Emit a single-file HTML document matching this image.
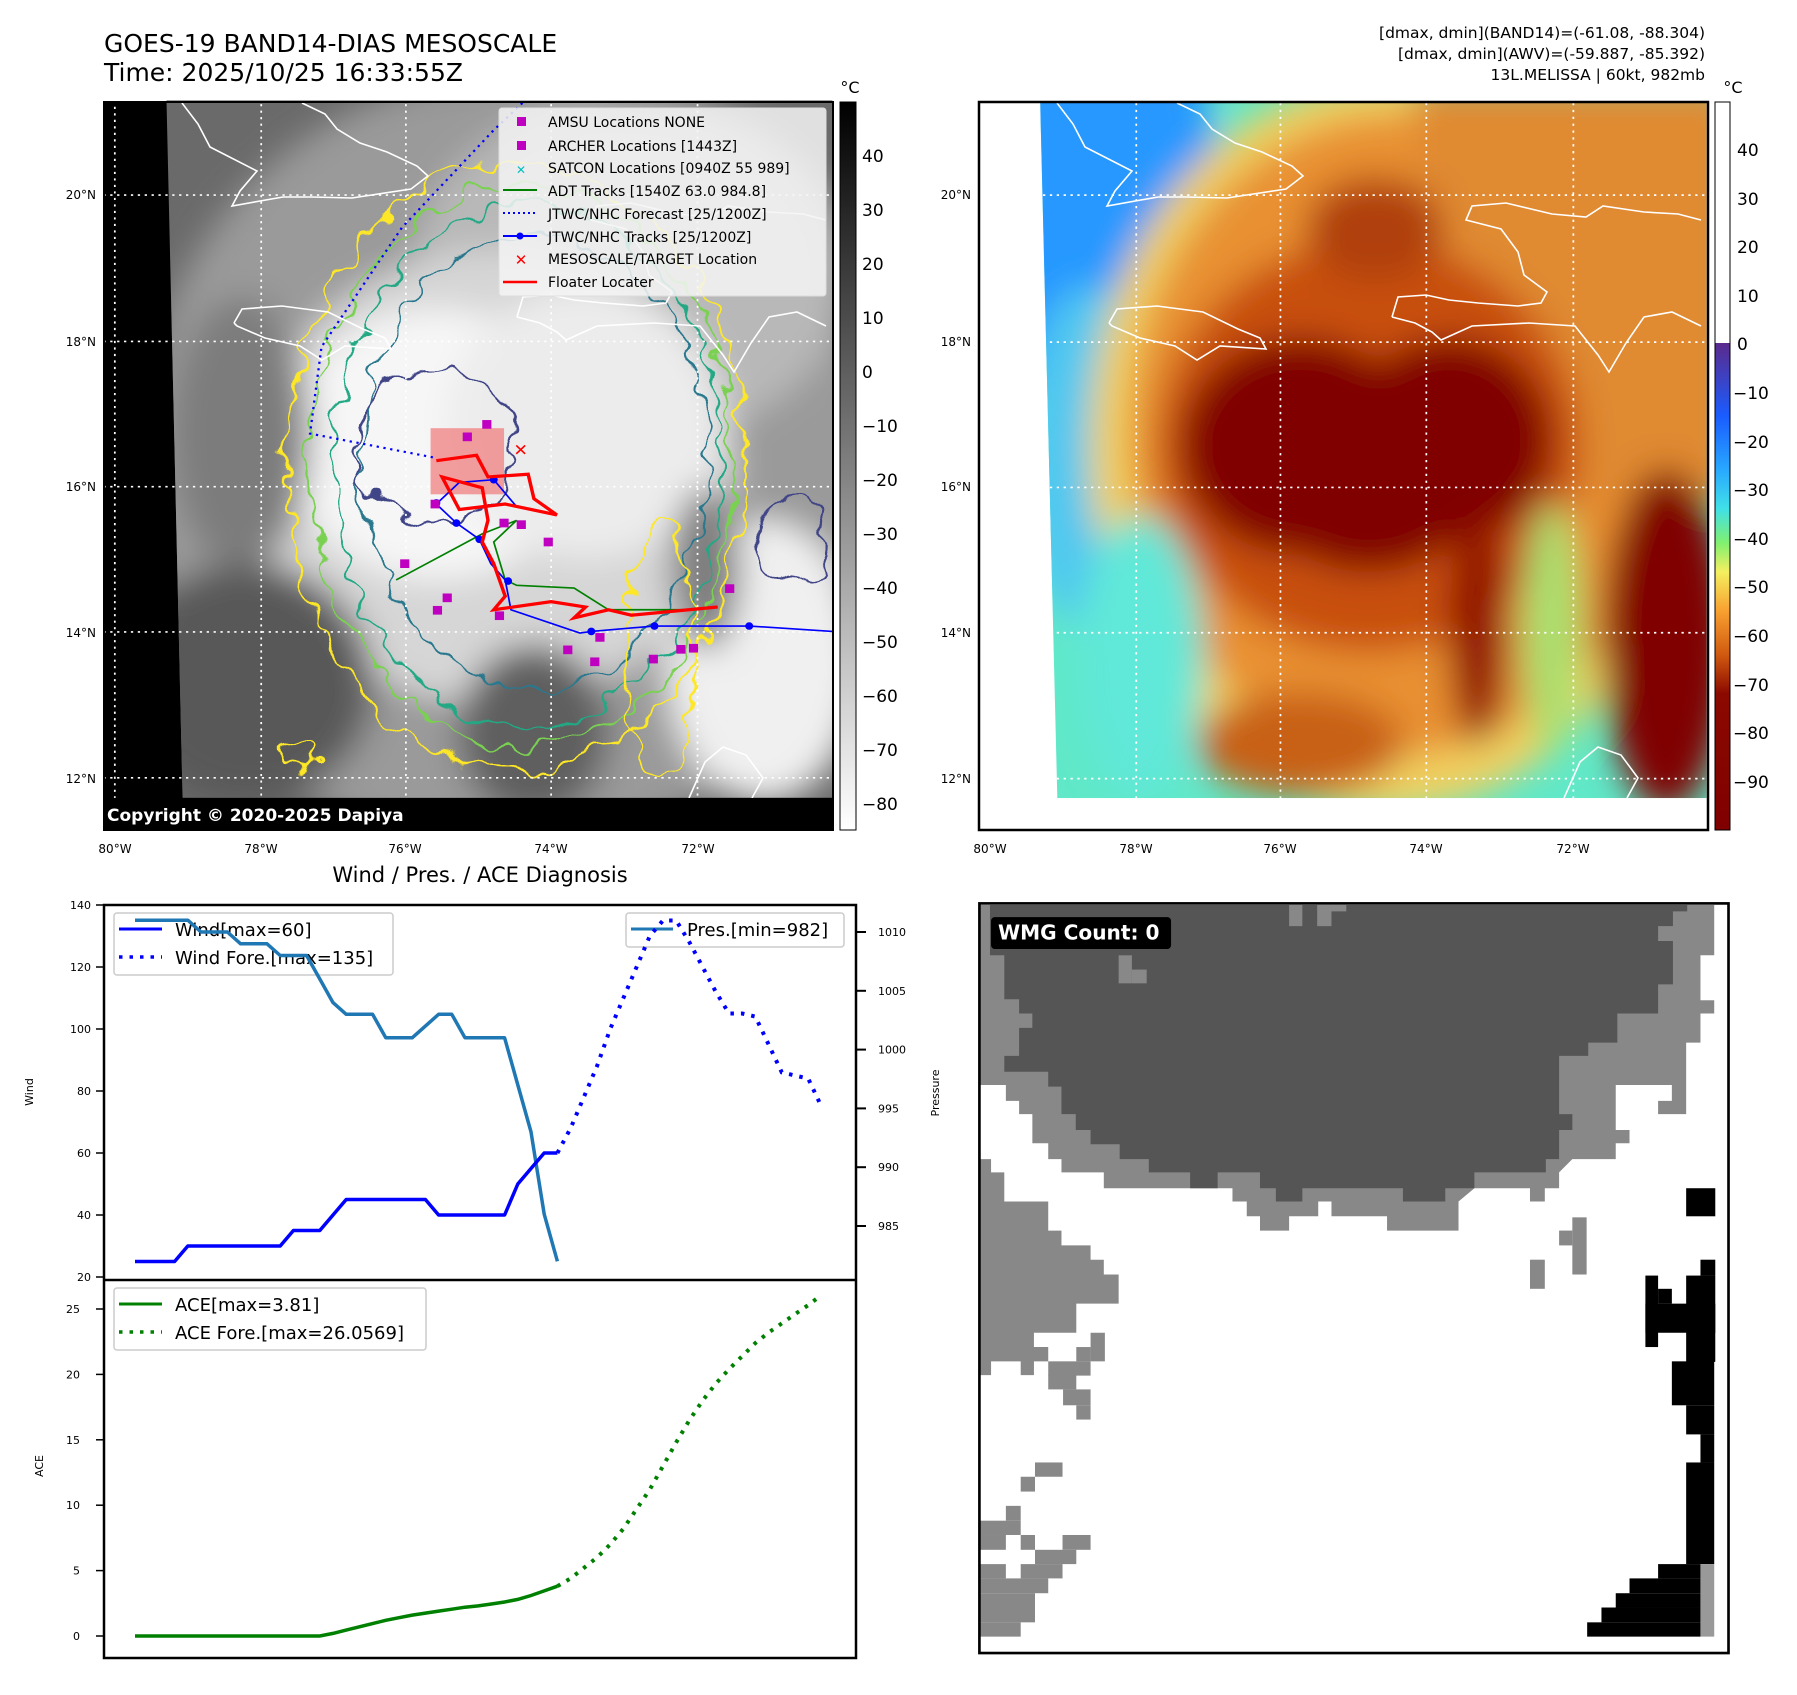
<!DOCTYPE html>
<html><head><meta charset="utf-8">
<style>
html,body{margin:0;padding:0;background:#fff;}
body{width:1797px;height:1690px;position:relative;overflow:hidden;font-family:"Liberation Sans","DejaVu Sans",sans-serif;}
svg text{font-family:"DejaVu Sans","Liberation Sans",sans-serif;}
</style></head>
<body>
<svg id="root" width="1797" height="1690" viewBox="0 0 1797 1690" xmlns="http://www.w3.org/2000/svg">
<defs>
  <filter id="blur30" x="-30%" y="-30%" width="160%" height="160%"><feGaussianBlur stdDeviation="30"/></filter>
  <filter id="wobble" x="-10%" y="-10%" width="120%" height="120%">
    <feTurbulence type="fractalNoise" baseFrequency="0.02" numOctaves="2" seed="3" result="n"/>
    <feDisplacementMap in="SourceGraphic" in2="n" scale="60" xChannelSelector="R" yChannelSelector="G"/>
  </filter>
  <linearGradient id="cbGray" x1="0" y1="0" x2="0" y2="1">
    <stop offset="0" stop-color="#000"/><stop offset="1" stop-color="#fff"/>
  </linearGradient>
  <linearGradient id="cbColor" x1="0" y1="0" x2="0" y2="1">
    <stop offset="0" stop-color="#5b2a8c"/>
    <stop offset="0.15" stop-color="#1a5cff"/>
    <stop offset="0.26" stop-color="#28a8ff"/>
    <stop offset="0.34" stop-color="#40e0e8"/>
    <stop offset="0.41" stop-color="#80f070"/>
    <stop offset="0.47" stop-color="#f4f060"/>
    <stop offset="0.55" stop-color="#f8a030"/>
    <stop offset="0.64" stop-color="#d05a10"/>
    <stop offset="0.72" stop-color="#8a0a00"/>
    <stop offset="1" stop-color="#800000"/>
  </linearGradient>
  <clipPath id="clipL"><polygon points="290,185 1450,185 1450,1472 318,1472"/></clipPath>
  <clipPath id="clipR"><polygon points="245,178 1410,178 1410,1395 275,1395"/></clipPath>
  <g id="coast" fill="none" stroke="#fff" stroke-width="1.6">
    <polyline points="234,323 242,309 282,306 328,312 363,329 385,338 391,349 345,346 322,360 300,346 265,338 237,326 234,323"/>
    <polyline points="182,103 198,124 210,147 257,171 240,191 232,206 283,197 312,197 352,198 411,189 428,176 417,166 387,152 360,143 337,129 325,114 302,103"/>
    <polyline points="517,317 523,297 551,295 574,300 603,303 643,306 666,303 672,292 649,275 643,252 626,229 591,220 597,206 631,203 677,214 711,217 728,206 769,212 803,214 826,220"/>
    <polyline points="826,326 797,312 769,317 751,343 734,372 723,355 700,326 654,323 597,326 566,340 557,332 540,323 517,317"/>
    <polyline points="689,798 705,762 723,747 746,755 763,778 752,798"/>
  </g>
</defs>

<text x="104" y="52" font-size="25" fill="#000">GOES-19 BAND14-DIAS MESOSCALE</text>
<text x="104" y="81" font-size="25" fill="#000">Time: 2025/10/25 16:33:55Z</text>
<g font-size="15.5" fill="#000" text-anchor="end">
  <text x="1705" y="38">[dmax, dmin](BAND14)=(-61.08, -88.304)</text>
  <text x="1705" y="59">[dmax, dmin](AWV)=(-59.887, -85.392)</text>
  <text x="1705" y="80">13L.MELISSA | 60kt, 982mb</text>
</g>

<g>
  <rect x="104" y="102" width="729" height="728" fill="#000"/>
  <g transform="scale(0.5741,0.5420)">
    <g clip-path="url(#clipL)">
      <rect x="280" y="180" width="1180" height="1300" fill="#6a6a6a"/>
      <g filter="url(#blur30)">
        <ellipse cx="880" cy="860" rx="640" ry="720" fill="#9a9a9a"/>
        <ellipse cx="1100" cy="500" rx="380" ry="320" fill="#b8b8b8"/>
        <ellipse cx="860" cy="880" rx="420" ry="420" fill="#d6d6d6"/>
        <ellipse cx="760" cy="820" rx="260" ry="250" fill="#f6f6f6"/>
        <ellipse cx="1020" cy="780" rx="240" ry="250" fill="#ececec"/>
        <ellipse cx="1330" cy="1220" rx="170" ry="260" fill="#f0f0f0"/>
        <ellipse cx="430" cy="1260" rx="220" ry="220" fill="#585858"/>
        <ellipse cx="930" cy="1350" rx="130" ry="160" fill="#5e5e5e"/>
        <ellipse cx="1230" cy="1050" rx="60" ry="150" fill="#7a7a7a"/>
        <ellipse cx="420" cy="800" rx="120" ry="250" fill="#7c7c7c"/>
      </g>
      <g fill="none" stroke-width="4" filter="url(#wobble)">
        <ellipse cx="900" cy="860" rx="400" ry="560" stroke="#fde725"/>
        <ellipse cx="910" cy="860" rx="370" ry="520" stroke="#7ad151"/>
        <ellipse cx="920" cy="860" rx="340" ry="480" stroke="#22a884"/>
        <ellipse cx="930" cy="850" rx="300" ry="420" stroke="#2a788e"/>
        <ellipse cx="760" cy="820" rx="140" ry="140" stroke="#414487"/>
        <ellipse cx="1380" cy="1000" rx="60" ry="80" stroke="#414487"/>
        <ellipse cx="1150" cy="1200" rx="60" ry="240" stroke="#fde725"/>
        <ellipse cx="520" cy="1390" rx="30" ry="25" stroke="#fde725"/>
      </g>
      <g stroke="#fff" stroke-width="3" stroke-dasharray="4 8" fill="none">
        <line x1="455" y1="180" x2="455" y2="1480"/><line x1="707" y1="180" x2="707" y2="1480"/>
        <line x1="960" y1="180" x2="960" y2="1480"/><line x1="1215" y1="180" x2="1215" y2="1480"/>
      </g>
    </g>
    <g stroke="#fff" stroke-width="3" stroke-dasharray="4 8" fill="none">
      <line x1="200" y1="185" x2="200" y2="1472"/>
      <line x1="180" y1="360" x2="1450" y2="360"/><line x1="180" y1="630" x2="1450" y2="630"/>
      <line x1="180" y1="898" x2="1450" y2="898"/><line x1="180" y1="1166" x2="1450" y2="1166"/>
      <line x1="180" y1="1435" x2="1450" y2="1435"/>
    </g>
    <rect x="750" y="790" width="128" height="122" fill="#f08080" fill-opacity="0.75"/>
    <polyline points="910,190 860,240 700,420 560,640 540,800 760,845" fill="none" stroke="#0000ff" stroke-width="4" stroke-dasharray="4 8"/>
    <polyline points="690,1070 840,985 900,960 860,1000 880,1070 900,1080 1000,1085 1060,1125 1200,1125 1250,1120" fill="none" stroke="#008000" stroke-width="3"/>
    <polyline points="1450,1165 1305,1155 1140,1155 1030,1165 1010,1168 890,1125 880,1070 855,1040 835,995 795,965 760,930 800,890 860,885 900,935" fill="none" stroke="#0000ff" stroke-width="3"/>
    <g fill="#0000ff"><circle cx="1305" cy="1155" r="7"/><circle cx="1140" cy="1155" r="7"/><circle cx="1030" cy="1165" r="7"/><circle cx="885" cy="1072" r="7"/><circle cx="835" cy="995" r="7"/><circle cx="795" cy="965" r="7"/><circle cx="760" cy="928" r="7"/><circle cx="860" cy="885" r="7"/></g>
    <polyline points="760,850 830,840 850,880 920,875 930,920 970,950 880,930 800,940 770,880 840,900 850,960 840,1000 860,1040 880,1100 860,1125 960,1110 1020,1120 1000,1140 1060,1125 1100,1135 1250,1120" fill="none" stroke="#ff0000" stroke-width="6"/>
    <g fill="#c000c0">
      <rect x="840" y="775" width="16" height="16"/><rect x="806" y="798" width="16" height="16"/><rect x="750" y="922" width="16" height="16"/>
      <rect x="870" y="957" width="16" height="16"/><rect x="900" y="960" width="16" height="16"/><rect x="947" y="992" width="16" height="16"/>
      <rect x="697" y="1032" width="16" height="16"/><rect x="771" y="1095" width="16" height="16"/><rect x="754" y="1118" width="16" height="16"/>
      <rect x="862" y="1128" width="16" height="16"/><rect x="981" y="1191" width="16" height="16"/><rect x="1028" y="1213" width="16" height="16"/>
      <rect x="1037" y="1168" width="16" height="16"/><rect x="1130" y="1208" width="16" height="16"/><rect x="1178" y="1190" width="16" height="16"/>
      <rect x="1263" y="1078" width="16" height="16"/><rect x="1200" y="1188" width="16" height="16"/>
    </g>
    <text x="907" y="840" font-size="30" fill="#ff0000" text-anchor="middle">✕</text>
  </g>
  <use href="#coast"/>
  <rect x="104" y="798" width="729" height="32" fill="#000"/>
  <text x="107" y="821" font-size="17" font-weight="bold" fill="#fff">Copyright © 2020-2025 Dapiya</text>
  <rect x="104" y="102" width="729" height="728" fill="none" stroke="#000" stroke-width="2"/>
</g>

<g>
  <rect x="499" y="108" width="327" height="188" rx="3" fill="#f4f4f4" fill-opacity="0.85" stroke="#ddd"/>
  <g font-size="14" fill="#000">
    <rect x="517" y="117" width="9" height="9" fill="#c000c0"/><text x="548" y="127">AMSU Locations NONE</text>
    <rect x="517" y="141" width="9" height="9" fill="#c000c0"/><text x="548" y="151">ARCHER Locations [1443Z]</text>
    <text x="521" y="174" font-size="12" fill="#00c0c0" text-anchor="middle">✕</text><text x="548" y="173">SATCON Locations [0940Z 55 989]</text>
    <line x1="503" y1="190" x2="537" y2="190" stroke="#008000" stroke-width="2"/><text x="548" y="196">ADT Tracks [1540Z 63.0 984.8]</text>
    <line x1="503" y1="213" x2="537" y2="213" stroke="#0000ff" stroke-width="2" stroke-dasharray="2 3"/><text x="548" y="219">JTWC/NHC Forecast [25/1200Z]</text>
    <line x1="503" y1="236" x2="537" y2="236" stroke="#0000ff" stroke-width="2"/><circle cx="520" cy="236" r="3.5" fill="#0000ff"/><text x="548" y="242">JTWC/NHC Tracks [25/1200Z]</text>
    <text x="521" y="265" font-size="15" fill="#ff0000" font-weight="bold" text-anchor="middle">✕</text><text x="548" y="264">MESOSCALE/TARGET Location</text>
    <line x1="503" y1="282" x2="537" y2="282" stroke="#ff0000" stroke-width="2.5"/><text x="548" y="287">Floater Locater</text>
  </g>
</g>

<g>
  <rect x="840" y="102" width="16" height="728" fill="url(#cbGray)" stroke="#000" stroke-width="1"/>
  <text x="850" y="93" font-size="16" text-anchor="middle">°C</text>
  <g font-size="17" fill="#000">
    <text x="862" y="162">40</text><text x="862" y="216">30</text><text x="862" y="270">20</text><text x="862" y="324">10</text>
    <text x="862" y="378">0</text><text x="862" y="432">−10</text><text x="862" y="486">−20</text><text x="862" y="540">−30</text>
    <text x="862" y="594">−40</text><text x="862" y="648">−50</text><text x="862" y="702">−60</text><text x="862" y="756">−70</text><text x="862" y="810">−80</text>
  </g>
</g>

<g font-size="12" fill="#000">
  <g text-anchor="end"><text x="96" y="199">20°N</text><text x="96" y="346">18°N</text><text x="96" y="491">16°N</text><text x="96" y="637">14°N</text><text x="96" y="783">12°N</text></g>
  <g text-anchor="middle"><text x="115" y="853">80°W</text><text x="261" y="853">78°W</text><text x="405" y="853">76°W</text><text x="551" y="853">74°W</text><text x="698" y="853">72°W</text></g>
</g>

<g>
  <rect x="979" y="102" width="729" height="728" fill="#fff"/>
  <g transform="translate(900,0) scale(0.5721)">
    <g clip-path="url(#clipR)">
      <rect x="240" y="170" width="1180" height="1240" fill="#60e8c8"/>
      <g filter="url(#blur30)">
        <ellipse cx="300" cy="300" rx="250" ry="400" fill="#2898ff"/>
        <ellipse cx="330" cy="800" rx="120" ry="300" fill="#50c8f0"/>
        <ellipse cx="850" cy="780" rx="520" ry="640" fill="#f0d060"/>
        <ellipse cx="870" cy="760" rx="470" ry="560" fill="#e89030"/>
        <rect x="900" y="150" width="560" height="720" fill="#e08a30"/>
        <ellipse cx="820" cy="780" rx="370" ry="360" fill="#c85010"/>
        <ellipse cx="700" cy="780" rx="210" ry="190" fill="#800000"/>
        <ellipse cx="960" cy="770" rx="180" ry="180" fill="#800000"/>
        <ellipse cx="820" cy="850" rx="190" ry="150" fill="#800000"/>
        <ellipse cx="1340" cy="1120" rx="110" ry="300" fill="#800000"/>
        <ellipse cx="1010" cy="1100" rx="50" ry="200" fill="#900800"/>
        <ellipse cx="1140" cy="1100" rx="50" ry="220" fill="#a8e070"/>
        <ellipse cx="700" cy="1300" rx="180" ry="90" fill="#c86018"/>
        <ellipse cx="830" cy="400" rx="120" ry="90" fill="#b04010"/>
        <ellipse cx="420" cy="1150" rx="110" ry="250" fill="#60e8d8"/>
      </g>
    </g>
    <g stroke="#fff" stroke-width="3" stroke-dasharray="4 8" fill="none">
      <line x1="413" y1="180" x2="413" y2="1395"/><line x1="665" y1="180" x2="665" y2="1395"/>
      <line x1="920" y1="180" x2="920" y2="1395"/><line x1="1177" y1="180" x2="1177" y2="1395"/>
      <line x1="250" y1="341" x2="1410" y2="341"/><line x1="250" y1="598" x2="1410" y2="598"/>
      <line x1="250" y1="852" x2="1410" y2="852"/><line x1="250" y1="1106" x2="1410" y2="1106"/>
      <line x1="250" y1="1361" x2="1410" y2="1361"/>
    </g>
  </g>
  <use href="#coast" transform="translate(875,0)"/>
  <rect x="979" y="102" width="729" height="728" fill="none" stroke="#000" stroke-width="2.5"/>
</g>
<g>
  <rect x="1715" y="102" width="15" height="241" fill="#fff"/>
  <rect x="1715" y="343" width="15" height="487" fill="url(#cbColor)"/>
  <rect x="1715" y="102" width="15" height="728" fill="none" stroke="#000" stroke-width="1"/>
  <text x="1733" y="93" font-size="16" text-anchor="middle">°C</text>
  <g font-size="17" fill="#000">
    <text x="1737" y="156">40</text><text x="1737" y="205">30</text><text x="1737" y="253">20</text><text x="1737" y="302">10</text>
    <text x="1737" y="350">0</text><text x="1733" y="399">−10</text><text x="1733" y="448">−20</text><text x="1733" y="496">−30</text>
    <text x="1733" y="545">−40</text><text x="1733" y="593">−50</text><text x="1733" y="642">−60</text><text x="1733" y="691">−70</text>
    <text x="1733" y="739">−80</text><text x="1733" y="788">−90</text>
  </g>
</g>
<g font-size="12" fill="#000">
  <g text-anchor="end"><text x="971" y="199">20°N</text><text x="971" y="346">18°N</text><text x="971" y="491">16°N</text><text x="971" y="637">14°N</text><text x="971" y="783">12°N</text></g>
  <g text-anchor="middle"><text x="990" y="853">80°W</text><text x="1136" y="853">78°W</text><text x="1280" y="853">76°W</text><text x="1426" y="853">74°W</text><text x="1573" y="853">72°W</text></g>
</g>

<g transform="translate(900,860) scale(0.5294)">
  <g fill="#888">
    <polygon points="150,85 1538,85 1538,180 1512,180 1512,265 1538,265 1538,290 1512,290 1512,345 1485,345 1485,480 1432,480 1432,455 1458,455 1458,425 1352,425 1352,510 1378,510 1378,535 1352,535 1352,565 1270,565 1245,590 1245,620 1218,620 1218,645 1190,645 1190,620 1085,620 1055,645 1055,700 920,700 920,673 815,673 815,645 790,645 790,673 735,673 735,700 680,700 680,673 655,673 655,645 628,645 628,620 520,620 520,645 520,620 385,620 385,590 305,590 305,565 280,565 280,535 250,535 250,480 225,480 225,455 200,455 200,425 150,425"/>
    <polygon points="150,565 172,565 172,590 197,590 197,645 280,645 280,700 305,700 305,728 360,728 360,755 385,755 385,783 413,783 413,838 333,838 333,893 253,893 253,920 280,920 280,947 253,947 253,973 228,973 228,947 172,947 172,973 150,973"/>
    <rect x="360" y="893" width="27" height="54"/><rect x="333" y="920" width="27" height="27"/>
    <rect x="280" y="947" width="80" height="27"/><rect x="280" y="973" width="53" height="27"/>
    <rect x="308" y="1000" width="52" height="30"/><rect x="333" y="1030" width="27" height="27"/>
    <rect x="255" y="1138" width="52" height="27"/><rect x="228" y="1165" width="27" height="28"/>
    <rect x="200" y="1220" width="28" height="28"/><rect x="150" y="1248" width="78" height="27"/>
    <rect x="150" y="1275" width="50" height="28"/><rect x="228" y="1275" width="27" height="28"/>
    <rect x="307" y="1275" width="53" height="28"/><rect x="255" y="1303" width="78" height="27"/>
    <rect x="150" y="1330" width="50" height="27"/><rect x="228" y="1330" width="79" height="27"/>
    <rect x="150" y="1357" width="130" height="28"/><rect x="150" y="1385" width="105" height="55"/>
    <rect x="150" y="1440" width="78" height="27"/>
    <rect x="1270" y="675" width="27" height="108"/><rect x="1245" y="700" width="25" height="28"/>
    <rect x="1190" y="755" width="28" height="55"/>
  </g>
  <polygon fill="#555" points="170,85 735,85 735,125 760,125 760,85 788,85 788,125 815,125 815,97 843,97 843,85 1487,85 1487,97 1460,97 1460,125 1432,125 1432,153 1460,153 1460,235 1432,235 1432,290 1355,290 1355,345 1300,345 1300,370 1245,370 1245,480 1270,480 1270,510 1245,510 1245,565 1220,565 1220,590 1085,590 1085,620 1030,620 1030,645 950,645 950,620 760,620 760,645 710,645 710,620 680,620 680,590 600,590 600,620 548,620 548,590 470,590 470,565 415,565 415,537 360,537 360,510 332,510 332,480 305,480 305,428 280,428 280,400 197,400 197,370 225,370 225,317 250,317 250,290 225,290 225,263 197,263 197,180 170,180"/>
  <rect x="413" y="180" width="25" height="53" fill="#888"/><rect x="438" y="207" width="28" height="26" fill="#888"/>
  <g fill="#000">
    <rect x="1485" y="620" width="55" height="53"/>
    <rect x="1512" y="755" width="28" height="30"/><rect x="1485" y="785" width="55" height="163"/>
    <rect x="1408" y="785" width="24" height="135"/><rect x="1432" y="810" width="26" height="28"/>
    <rect x="1408" y="838" width="132" height="55"/><rect x="1458" y="947" width="80" height="83"/>
    <rect x="1485" y="1030" width="53" height="55"/><rect x="1512" y="1085" width="26" height="53"/>
    <rect x="1485" y="1138" width="53" height="192"/>
    <rect x="1432" y="1330" width="80" height="27"/><rect x="1378" y="1357" width="134" height="28"/>
    <rect x="1352" y="1385" width="160" height="27"/><rect x="1325" y="1412" width="187" height="28"/>
    <rect x="1298" y="1440" width="214" height="27"/>
  </g>
  <rect x="1512" y="1330" width="26" height="137" fill="#999"/>
  <rect x="150" y="82" width="1415" height="1416" fill="none" stroke="#000" stroke-width="5"/>
  <rect x="172" y="108" width="340" height="60" rx="7" fill="#000"/>
  <text x="185" y="150" font-size="38" font-weight="bold" fill="#fff">WMG Count: 0</text>
</g>
<text transform="translate(939,1093) rotate(-90)" font-size="11" text-anchor="middle">Pressure</text>

<g id="chart">
  <text x="480" y="882" font-size="21" text-anchor="middle">Wind / Pres. / ACE Diagnosis</text>
  <rect x="104" y="905" width="752" height="753" fill="none" stroke="#000" stroke-width="2.5"/>
  <line x1="104" y1="1280" x2="856" y2="1280" stroke="#000" stroke-width="2.5"/>
  <text transform="translate(33,1092) rotate(-90)" font-size="11" text-anchor="middle">Wind</text>
  <text transform="translate(43,1466) rotate(-90)" font-size="11" text-anchor="middle">ACE</text>
  <g id="ticks"></g>
  <g>
    <rect x="114" y="913" width="279" height="62" rx="3" fill="#fff" fill-opacity="0.8" stroke="#ccc" stroke-width="1.5"/>
    <line x1="119" y1="929" x2="162" y2="929" stroke="#0000ff" stroke-width="3"/>
    <text x="175" y="936" font-size="18">Wind[max=60]</text>
    <line x1="119" y1="957" x2="162" y2="957" stroke="#0000ff" stroke-width="3.5" stroke-dasharray="3.5 7"/>
    <text x="175" y="964" font-size="18">Wind Fore.[max=135]</text>
  </g>
  <g>
    <rect x="626" y="913" width="218" height="34" rx="3" fill="#fff" fill-opacity="0.8" stroke="#ccc" stroke-width="1.5"/>
    <line x1="631" y1="929" x2="673" y2="929" stroke="#1f77b4" stroke-width="3"/>
    <text x="687" y="936" font-size="18">Pres.[min=982]</text>
  </g>
  <g id="series"></g>
  <g>
    <rect x="114" y="1288" width="312" height="62" rx="3" fill="#fff" fill-opacity="0.8" stroke="#ccc" stroke-width="1.5"/>
    <line x1="119" y1="1304" x2="162" y2="1304" stroke="#008000" stroke-width="3"/>
    <text x="175" y="1311" font-size="18">ACE[max=3.81]</text>
    <line x1="119" y1="1332" x2="162" y2="1332" stroke="#008000" stroke-width="3.5" stroke-dasharray="3.5 7"/>
    <text x="175" y="1339" font-size="18">ACE Fore.[max=26.0569]</text>
  </g>
</g>
</svg>
<script>
const windObs = [25,25,25,25,30,30,30,30,30,30,30,30,35,35,35,40,45,45,45,45,45,45,45,40,40,40,40,40,40,50,55,60,60];
const windFore = [60,68,78,88,100,110,120,130,135,135,128,120,112,105,105,104,95,86,85,84,75];
const presObs = [1011,1011,1011,1011,1011,1010,1010,1010,1009,1009,1009,1008,1008,1008,1006,1004,1003,1003,1003,1001,1001,1001,1002,1003,1003,1001,1001,1001,1001,997,993,986,982];
const aceObs = [0,0,0,0,0,0,0,0,0,0,0,0,0,0,0,0.2,0.45,0.7,0.95,1.2,1.4,1.6,1.75,1.9,2.05,2.2,2.3,2.45,2.6,2.8,3.1,3.45,3.81];
const aceFore = [3.81,4.4,5.2,6.0,7.0,8.2,9.7,11.2,13.0,14.8,16.5,18.0,19.3,20.4,21.4,22.4,23.2,23.9,24.6,25.3,26.06];
const windTicks = [20,40,60,80,100,120,140];
const presTicks = [985,990,995,1000,1005,1010];
const aceTicks = [0,5,10,15,20,25];

const NS = 'http://www.w3.org/2000/svg';
const xS = i => 135 + i * 13.2;
const yW = v => 1277 - (v - 20) * 3.1;
const yP = p => 932 - (p - 1010) * 11.76;
const yA = a => 1636 - a * 13.08;
const foreStart = windObs.length - 1;

function mk(tag, attrs, parent) {
  const e = document.createElementNS(NS, tag);
  for (const k in attrs) e.setAttribute(k, attrs[k]);
  parent.appendChild(e);
  return e;
}
const ticks = document.getElementById('ticks');
const series = document.getElementById('series');

windTicks.forEach(v => {
  const l = mk('line', {x1: 96, x2: 104, y1: yW(v), y2: yW(v), stroke: '#000', 'stroke-width': 1.5}, ticks);
  
  
  const t = mk('text', {x: 91, y: yW(v) + 4, 'font-size': 11, 'text-anchor': 'end'}, ticks);
  t.textContent = v;
  
  
});
presTicks.forEach(p => {
  const l = mk('line', {x1: 856, x2: 866, y1: yP(p), y2: yP(p), stroke: '#000', 'stroke-width': 2}, ticks);
  
  
  const t = mk('text', {x: 878, y: yP(p) + 4, 'font-size': 11}, ticks);
  t.textContent = p;
  
  
});
aceTicks.forEach(a => {
  const l = mk('line', {x1: 96, x2: 104, y1: yA(a), y2: yA(a), stroke: '#000', 'stroke-width': 1.5}, ticks);
  
  
  const t = mk('text', {x: 80, y: yA(a) + 4, 'font-size': 11, 'text-anchor': 'end'}, ticks);
  t.textContent = a;
  
  
});

function pts(arr, off, yf) { return arr.map((v, i) => xS(i + off).toFixed(1) + ',' + yf(v).toFixed(1)).join(' '); }

const wf = mk('polyline', {points: pts(windFore, foreStart, yW), fill: 'none', stroke: '#0000ff', 'stroke-width': 4, 'stroke-dasharray': '3.5 7'}, series);


const pl = mk('polyline', {points: pts(presObs, 0, yP), fill: 'none', stroke: '#1f77b4', 'stroke-width': 3.5, 'stroke-linejoin': 'round'}, series);


const wl = mk('polyline', {points: pts(windObs, 0, yW), fill: 'none', stroke: '#0000ff', 'stroke-width': 3.5, 'stroke-linejoin': 'round'}, series);


const af = mk('polyline', {points: pts(aceFore, foreStart, yA), fill: 'none', stroke: '#008000', 'stroke-width': 4, 'stroke-dasharray': '3.5 7'}, series);


const al = mk('polyline', {points: pts(aceObs, 0, yA), fill: 'none', stroke: '#008000', 'stroke-width': 3.5}, series);


</script>
</body></html>
